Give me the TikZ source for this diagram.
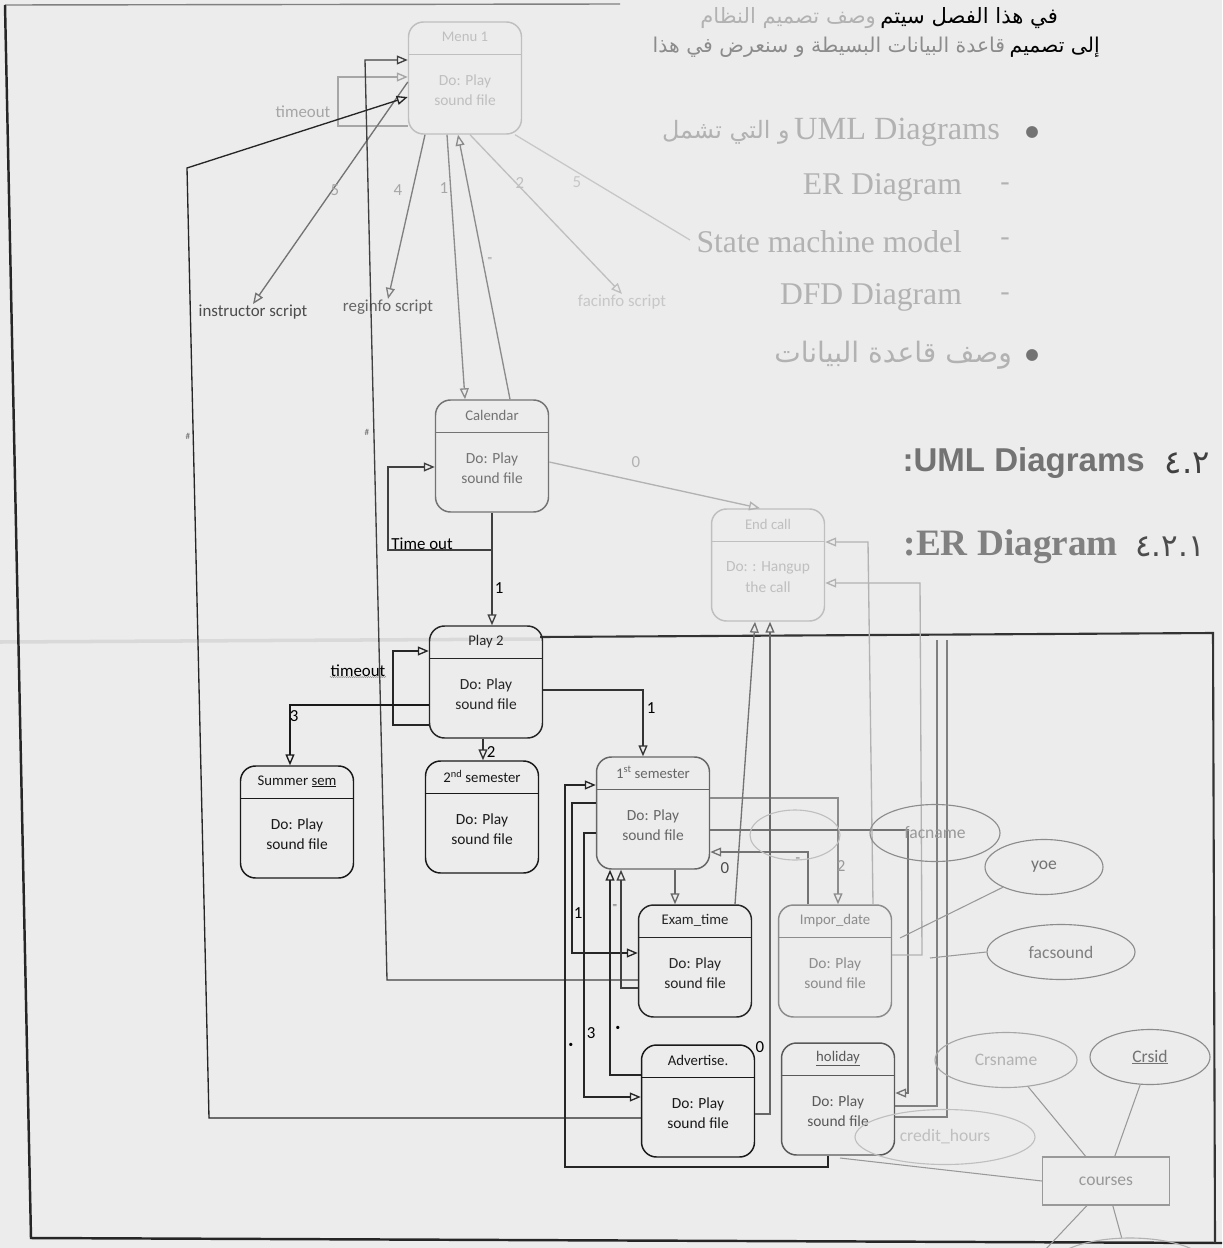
\documentclass[tikz,border=0pt]{standalone}
\usepackage{fontspec}
\setmainfont{Carlito}
\newfontfamily\arabicfont[Script=Arabic]{DejaVu Sans}
\newfontfamily\timesfont{Liberation Serif}
\newfontfamily\arialfont{Liberation Sans}
\TeXXeTstate=1
\usetikzlibrary{positioning,arrows.meta,shapes.geometric,decorations.pathmorphing}
\definecolor{paper}{HTML}{ECECEC}

\begin{document}
\begin{tikzpicture}[
  x=0.05cm,y=-0.05cm,
  stbox/.style={draw,rounded corners=0.75cm,minimum width=5.65cm,minimum height=5.6cm,line width=2.1pt},
  sttitle/.style={font=\fontsize{21}{24}\selectfont,inner sep=0pt},
  stbody/.style={font=\fontsize{22}{29}\selectfont,align=center,inner sep=0pt},
  arr/.style={-{Triangle[open,length=0.55cm,width=0.45cm]},line width=1.9pt},
  ln/.style={line width=1.8pt},
  lbl/.style={font=\fontsize{24}{26}\selectfont,inner sep=1pt},
  smalllbl/.style={font=\fontsize{13}{13}\selectfont,inner sep=0pt},
  erell/.style={draw=black!45,ellipse,line width=1.6pt,minimum height=2.75cm,font=\fontsize{25}{27}\selectfont},
  erln/.style={black!40,line width=1.5pt},
  page/.style={text=black!30,inner sep=0pt}
]
\fill[paper] (0,0) rectangle (1222,1248);
\useasboundingbox (0,0) rectangle (1222,1248);

% page frame
\draw[black!15,line width=5pt] (0,642) -- (540,639);
\draw[black!50,line width=2pt] (5,5) -- (620,4);
\draw[black!85,line width=3.5pt] (5,5) -- (31,1238) -- (1222,1243);
\draw[black!80,line width=3pt] (540,637) -- (1213,633) -- (1215,1243);

% text of the page
\node[anchor=east,font=\arabicfont\fontsize{30}{34}\selectfont,inner sep=0pt] (ar1) at (1058,18) {\beginR في هذا الفصل سيتم\endR};
\node[anchor=east,font=\arabicfont\fontsize{30}{34}\selectfont,inner sep=0pt,text=black!30,left=6pt of ar1] {\beginR وصف تصميم النظام\endR};
\node[anchor=east,font=\arabicfont\fontsize{29}{34}\selectfont,inner sep=0pt] (ar2) at (1100,47) {\beginR إلى تصميم\endR};
\node[anchor=east,font=\arabicfont\fontsize{29}{34}\selectfont,inner sep=0pt,text=black!45,left=6pt of ar2] {\beginR قاعدة البيانات البسيطة و سنعرض في هذا\endR};
\node[page,font=\arabicfont\fontsize{22}{22}\selectfont,text=black!55] at (1032,132) {●};
\node[page,anchor=east,font=\timesfont\fontsize{46}{50}\selectfont] (uml) at (1000,132) {UML Diagrams};
\node[page,anchor=east,font=\arabicfont\fontsize{34}{38}\selectfont,left=6pt of uml] {\beginR و التي تشمل\endR};
\node[page,font=\timesfont\fontsize{40}{40}\selectfont] at (1005,187) {-};
\node[page,anchor=east,font=\timesfont\fontsize{45}{50}\selectfont] at (962,187) {ER Diagram};
\node[page,font=\timesfont\fontsize{40}{40}\selectfont] at (1005,242) {-};
\node[page,anchor=east,font=\timesfont\fontsize{45}{50}\selectfont] at (962,242) {State machine model};
\node[page,font=\timesfont\fontsize{40}{40}\selectfont] at (1005,297) {-};
\node[page,anchor=east,font=\timesfont\fontsize{45}{50}\selectfont] at (962,297) {DFD Diagram};
\node[page,font=\arabicfont\fontsize{22}{22}\selectfont,text=black!55] at (1032,355) {●};
\node[page,anchor=east,font=\arabicfont\fontsize{40}{44}\selectfont] at (1012,355) {\beginR وصف قاعدة البيانات\endR};
\node[anchor=east,font=\arialfont\bfseries\fontsize{47}{50}\selectfont,text=black!55,inner sep=0pt] at (1145,463) {:UML Diagrams};
\node[anchor=east,font=\arabicfont\fontsize{46}{50}\selectfont,text=black!75,inner sep=0pt] at (1210,463) {٤.٢};
\node[anchor=east,font=\timesfont\bfseries\fontsize{53}{56}\selectfont,text=black!50,inner sep=0pt] at (1118,547) {:ER Diagram};
\node[anchor=east,font=\arabicfont\fontsize{44}{48}\selectfont,text=black!70,inner sep=0pt] at (1205,547) {٤.٢.١};

% states
\foreach \n/\x/\y/\t/\b/\c in {
  menu/465/78/{Menu 1}/{Do: Play\\sound file}/black!25,
  cal/492/456/Calendar/{Do: Play\\sound file}/black!55,
  endc/768/565/{End call}/{Do: : Hangup\\the call}/black!25,
  play/486/682/{Play 2}/{Do: Play\\sound file}/black!85,
  summer/297/822/{Summer \underline{sem}}/{Do: Play\\sound file}/black!90,
  second/482/817/{2\textsuperscript{nd} semester}/{Do: Play\\sound file}/black!90,
  first/653/813/{1\textsuperscript{st} semester}/{Do: Play\\sound file}/black!60,
  exam/695/961/Exam\_time/{Do: Play\\sound file}/black!85,
  impor/835/961/Impor\_date/{Do: Play\\sound file}/black!45,
  adv/698/1101/Advertise./{Do: Play\\sound file}/black!90,
  hol/838/1099/{\underline{holiday}}/{Do: Play\\sound file}/black!65}{
  \node[stbox,draw=\c] (\n) at (\x,\y) {};
  \node[sttitle,text=\c] at ([yshift=-0.8cm]\n.north) {\t};
  \draw[draw=\c,line width=1.5pt] ([yshift=-1.65cm]\n.north west) -- ([yshift=-1.65cm]\n.north east);
  \node[stbody,text=\c] at ([yshift=-0.6cm]\n.center) {\b};
}

% scripts
\node[lbl,text=black!70] (instr) at (253,312) {instructor script};
\node[lbl,text=black!60] (regi) at (388,307) {reginfo script};
\node[lbl,text=black!22] (faci) at (622,302) {facinfo script};
\coordinate (offr) at (690,240);

% top state
\draw[arr,black!35] (menu.west |- 0,126) -- (338,126) -- (338,77) -- (menu.west |- 0,77);
\node[lbl,text=black!35] at (303,112) {timeout};
\draw[arr,black!55] (menu.west |- 0,82) -- (instr.north);
\node[lbl,text=black!35] at (335,190) {5};
\draw[arr,black!50] (menu.south -| 425,0) -- (regi.north);
\node[lbl,text=black!35] at (398,190) {4};
\draw[arr,black!45] (menu.south -| 447,0) -- (cal.north -| 465,0);
\node[lbl,text=black!35] at (444,188) {1};
\draw[arr,black!45] (cal.north -| 510,0) -- (menu.south -| 458,0);
\node[smalllbl,text=black!40] at (490,260) {=};
\draw[arr,black!25] (menu.south -| 470,0) -- (faci.north);
\node[lbl,text=black!25] at (520,183) {2};
\draw[ln,black!22] (menu.south -| 515,0) -- (offr);
\node[lbl,text=black!22] at (577,182) {5};
\draw[arr,black!75] (exam.west |- 0,980) -- (387,980) -- (365,60) -- (menu.west |- 0,60);
\node[smalllbl,text=black!60] at (367,432) {\#};
\draw[arr,black!85] (adv.west |- 0,1118) -- (209,1118) -- (187,168) -- (menu.west |- 0,97);
\node[smalllbl,text=black!60] at (188,436) {\#};

% calendar
\draw[arr,black!75] (cal.south) -- (cal.south |- play.north);
\node[lbl,anchor=west] at (494,588) {1};
\draw[arr,black!75] (cal.south |- 0,550) -- (388,550) -- (388,467) -- (cal.west |- 0,467);
\node[lbl,anchor=south west,inner sep=0.5pt] at (391,550) {Time out};
\draw[arr,black!30] (cal.east |- 0,462) -- (endc.north -| 760,0);
\node[lbl,text=black!30] at (636,462) {0};

% play 2
\draw[arr,black!85] (play.west |- 0,725) -- (393,725) -- (393,651) -- (play.west |- 0,651);
\node[lbl] (tmo) at (358,671) {timeout};
\draw[black!70,decorate,decoration={snake,amplitude=0.6pt,segment length=3pt}] ([yshift=1pt]tmo.south west) -- ([yshift=1pt]tmo.south east);
\draw[arr,black!90] (play.west |- 0,705) -- (290,705) -- (summer.north -| 290,0);
\node[lbl,anchor=west] at (289,716) {3};
\draw[arr,black!80] (play.south -| 483,0) -- (second.north -| 483,0);
\node[lbl,anchor=west] at (486,752) {2};
\draw[arr,black!80] (play.east |- 0,690) -- (643,690) -- (first.north -| 643,0);
\node[lbl,anchor=west] at (646,708) {1};

% 1st semester
\draw[arr,black!60] (first.south -| 675,0) -- (exam.north -| 675,0);
\draw[arr,black!45] (first.east |- 0,798) -- (838,798) -- (impor.north -| 838,0);
\node[lbl,anchor=west,text=black!40] at (836,866) {2};
\draw[arr,black!55] (impor.north -| 808,0) -- (808,852) -- (first.east |- 0,852);
\node[smalllbl,text=black!50] at (798,860) {=};
\draw[arr,black!55] (first.east |- 0,830) -- (908,830) -- (908,1093) -- (hol.east |- 0,1093);
\draw[arr,black!55] (exam.north -| 735,0) -- (endc.south -| 755,0);
\node[lbl,text=black!70] at (725,868) {0};
\draw[arr,black!60] (adv.east |- 0,1114) -- (770,1114) -- (endc.south -| 770,0);
\node[lbl] at (760,1047) {0};
\draw[arr,black!30] (impor.north -| 873,0) -- (868,542) -- (endc.east |- 0,542);
\draw[arr,black!30] (impor.east |- 0,955) -- (922,955) -- (920,583) -- (endc.east |- 0,583);
\draw[ln,black!50] (hol.east |- 0,1106) -- (937,1106) -- (937,640);
\draw[ln,black!50] (hol.east |- 0,1117) -- (947,1117) -- (947,640);
\draw[arr,black!85] (hol.south -| 828,0) -- (828,1167) -- (565,1167) -- (565,785) -- (first.west |- 0,785);
\node[smalllbl] at (571,1045) {•};
\draw[arr,black!85] (first.west |- 0,803) -- (572,803) -- (572,953) -- (exam.west |- 0,953);
\node[lbl,anchor=west] at (573,913) {1};
\draw[arr,black!85] (first.west |- 0,833) -- (584,833) -- (584,1097) -- (adv.west |- 0,1097);
\node[lbl,anchor=west] at (586,1033) {3};
\draw[arr,black!75] (exam.west |- 0,988) -- (621,988) -- (first.south -| 621,0);
\node[smalllbl,text=black!60] at (615,907) {=};
\draw[arr,black!85] (adv.west |- 0,1075) -- (610,1075) -- (first.south -| 610,0);
\node[smalllbl] at (618,1028) {•};

% ER diagram behind
\node[erell,draw=black!25,minimum width=4.5cm,minimum height=2.5cm] (fid) at (795,835) {};
\node[erell,minimum width=6.5cm,minimum height=2.85cm,text=black!40] (fname) at (935,833) {facname};
\node[erell,minimum width=5.9cm,text=black!55] (yoe) at (1044,867) {yoe};
\node[erell,minimum width=7.4cm,text=black!50] (fsnd) at (1061,952) {facsound};
\node[erell,draw=black!35,minimum width=7.1cm,text=black!30] (crsn) at (1006,1060) {Crsname};
\node[erell,minimum width=6cm,text=black!55] (crsid) at (1150,1057) {\underline{Crsid}};
\node[erell,draw=black!25,minimum width=9cm,text=black!25] (cred) at (945,1137) {credit\_hours};
\node[draw=black!40,line width=1.5pt,minimum width=6.35cm,minimum height=2.4cm,font=\fontsize{25}{27}\selectfont,text=black!40] (crs) at (1106,1181) {courses};
\node[erell,draw=black!30,minimum width=8cm,minimum height=3cm] (crsb) at (1130,1268) {};
\coordinate (yoel) at (900,938);
\coordinate (fsl) at (930,958);
\coordinate (crl) at (840,1158);
\coordinate (crb) at (1045,1250);
\draw[erln] (crsn) -- (crs);
\draw[erln] (crsid) -- (crs);
\draw[erln] (crs.west) -- (crl);
\draw[erln] (crs) -- (crsb);
\draw[erln] (crs.south west) ++(45,0) -- (crb);
\draw[erln] (yoe) -- (yoel);
\draw[erln] (fsnd.west) -- (fsl);
\end{tikzpicture}
\end{document}
